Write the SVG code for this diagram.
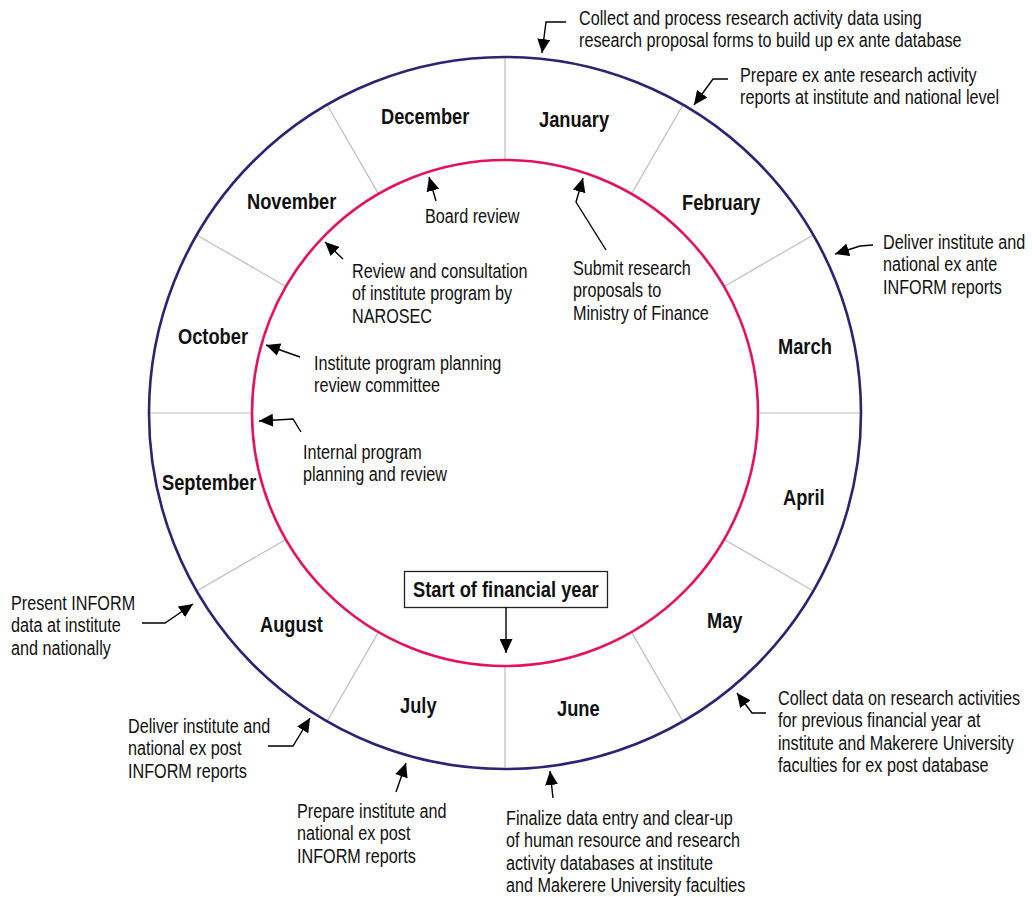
<svg xmlns="http://www.w3.org/2000/svg" width="1032" height="897" viewBox="0 0 1032 897">
  <style>
    .body { font-family: "Liberation Sans", Arial, sans-serif; font-size: 20px; fill: #111; }
    .month { font-family: "Liberation Sans", Arial, sans-serif; font-size: 21.5px; font-weight: bold; fill: #111; }
    .divider { stroke: #bdbdbd; stroke-width: 1.2; }
    .conn { fill: none; stroke: #000; stroke-width: 1.4; marker-end: url(#head); }
  </style>
  <defs>
    <marker id="head" markerUnits="userSpaceOnUse" markerWidth="15" markerHeight="13" refX="14" refY="6.5" orient="auto">
      <path d="M0,0 L14,6.5 L0,13 Z" fill="#000"/>
    </marker>
  </defs>
  <rect width="1032" height="897" fill="#fff"/>

  <!-- month ring -->
  <g id="ring">
    <g class="divider">
      <line x1="505" y1="160" x2="505" y2="57"/>
      <line x1="505" y1="160" x2="505" y2="57" transform="rotate(30 505 413)"/>
      <line x1="505" y1="160" x2="505" y2="57" transform="rotate(60 505 413)"/>
      <line x1="505" y1="160" x2="505" y2="57" transform="rotate(90 505 413)"/>
      <line x1="505" y1="160" x2="505" y2="57" transform="rotate(120 505 413)"/>
      <line x1="505" y1="160" x2="505" y2="57" transform="rotate(150 505 413)"/>
      <line x1="505" y1="160" x2="505" y2="57" transform="rotate(180 505 413)"/>
      <line x1="505" y1="160" x2="505" y2="57" transform="rotate(210 505 413)"/>
      <line x1="505" y1="160" x2="505" y2="57" transform="rotate(240 505 413)"/>
      <line x1="505" y1="160" x2="505" y2="57" transform="rotate(270 505 413)"/>
      <line x1="505" y1="160" x2="505" y2="57" transform="rotate(300 505 413)"/>
      <line x1="505" y1="160" x2="505" y2="57" transform="rotate(330 505 413)"/>
    </g>
    <circle cx="505" cy="413" r="356" fill="none" stroke="#2E2372" stroke-width="2.6"/>
    <circle cx="505" cy="413" r="253" fill="none" stroke="#E3115F" stroke-width="2.6"/>
  </g>

  <!-- month labels -->
  <g id="months">
    <text id="m-jan" class="month" transform="translate(539,127) scale(0.85,1)">January</text>
    <text id="m-feb" class="month" transform="translate(682,210) scale(0.85,1)">February</text>
    <text id="m-mar" class="month" transform="translate(778,354) scale(0.85,1)">March</text>
    <text id="m-apr" class="month" transform="translate(783,505) scale(0.85,1)">April</text>
    <text id="m-may" class="month" transform="translate(707,628) scale(0.85,1)">May</text>
    <text id="m-jun" class="month" transform="translate(557,716) scale(0.85,1)">June</text>
    <text id="m-jul" class="month" transform="translate(400,713) scale(0.85,1)">July</text>
    <text id="m-aug" class="month" transform="translate(260,632) scale(0.85,1)">August</text>
    <text id="m-sep" class="month" transform="translate(162,490) scale(0.85,1)">September</text>
    <text id="m-oct" class="month" transform="translate(178,344) scale(0.85,1)">October</text>
    <text id="m-nov" class="month" transform="translate(247,209) scale(0.85,1)">November</text>
    <text id="m-dec" class="month" transform="translate(381,124) scale(0.85,1)">December</text>
  </g>

  <!-- activities outside the ring -->
  <g id="collect-ex-ante">
    <text class="body" transform="translate(579,25) scale(0.81,1)"><tspan x="0" y="0">Collect and process research activity data using</tspan><tspan x="0" y="22.3">research proposal forms to build up ex ante database</tspan></text>
  </g>
  <g id="prepare-ex-ante">
    <text class="body" transform="translate(740,82) scale(0.81,1)"><tspan x="0" y="0">Prepare ex ante research activity</tspan><tspan x="0" y="22.3">reports at institute and national level</tspan></text>
  </g>
  <g id="deliver-ex-ante">
    <text class="body" transform="translate(883,249) scale(0.81,1)"><tspan x="0" y="0">Deliver institute and</tspan><tspan x="0" y="22.3">national ex ante</tspan><tspan x="0" y="44.6">INFORM reports</tspan></text>
  </g>
  <g id="collect-ex-post">
    <text class="body" transform="translate(778,705) scale(0.81,1)"><tspan x="0" y="0">Collect data on research activities</tspan><tspan x="0" y="22.3">for previous financial year at</tspan><tspan x="0" y="44.6">institute and Makerere University</tspan><tspan x="0" y="66.9">faculties for ex post database</tspan></text>
  </g>
  <g id="finalize">
    <text class="body" transform="translate(506,825) scale(0.81,1)"><tspan x="0" y="0">Finalize data entry and clear-up</tspan><tspan x="0" y="22.3">of human resource and research</tspan><tspan x="0" y="44.6">activity databases at institute</tspan><tspan x="0" y="66.9">and Makerere University faculties</tspan></text>
  </g>
  <g id="prepare-ex-post">
    <text class="body" transform="translate(297,818) scale(0.81,1)"><tspan x="0" y="0">Prepare institute and</tspan><tspan x="0" y="22.3">national ex post</tspan><tspan x="0" y="44.6">INFORM reports</tspan></text>
  </g>
  <g id="deliver-ex-post">
    <text class="body" transform="translate(128,733) scale(0.81,1)"><tspan x="0" y="0">Deliver institute and</tspan><tspan x="0" y="22.3">national ex post</tspan><tspan x="0" y="44.6">INFORM reports</tspan></text>
  </g>
  <g id="present-inform">
    <text class="body" transform="translate(11,610) scale(0.81,1)"><tspan x="0" y="0">Present INFORM</tspan><tspan x="0" y="22.3">data at institute</tspan><tspan x="0" y="44.6">and nationally</tspan></text>
  </g>

  <!-- activities inside the ring -->
  <g id="board-review">
    <text class="body" transform="translate(425,223) scale(0.81,1)">Board review</text>
  </g>
  <g id="submit-proposals">
    <text class="body" transform="translate(573,275) scale(0.81,1)"><tspan x="0" y="0">Submit research</tspan><tspan x="0" y="22.3">proposals to</tspan><tspan x="0" y="44.6">Ministry of Finance</tspan></text>
  </g>
  <g id="narosec-review">
    <text class="body" transform="translate(352,278) scale(0.81,1)"><tspan x="0" y="0">Review and consultation</tspan><tspan x="0" y="22.3">of institute program by</tspan><tspan x="0" y="44.6">NAROSEC</tspan></text>
  </g>
  <g id="committee-review">
    <text class="body" transform="translate(314,370) scale(0.81,1)"><tspan x="0" y="0">Institute program planning</tspan><tspan x="0" y="22.3">review committee</tspan></text>
  </g>
  <g id="internal-review">
    <text class="body" transform="translate(303,459) scale(0.81,1)"><tspan x="0" y="0">Internal program</tspan><tspan x="0" y="22.3">planning and review</tspan></text>
  </g>
  <g id="financial-year-start">
    <rect x="404.5" y="571.5" width="203" height="36" fill="#fff" stroke="#222" stroke-width="1.3"/>
    <text class="month" transform="translate(413,597) scale(0.85,1)">Start of financial year</text>
  </g>

  <!-- pointers from each activity to its place on the ring -->
  <g id="connectors">
    <polyline class="conn" points="566,22 546,22 542,53"/>
    <polyline class="conn" points="728,79 713,79 694,105"/>
    <polyline class="conn" points="873,245 860,246 835,254"/>
    <polyline class="conn" points="766,713 752,713 737,693"/>
    <polyline class="conn" points="553,798 550,771"/>
    <polyline class="conn" points="396,792 406,763"/>
    <polyline class="conn" points="268,746 293,746 310,718"/>
    <polyline class="conn" points="142,623 165,623 193,604"/>
    <polyline class="conn" points="436,201 429,177"/>
    <polyline class="conn" points="606,250 576,202 583,178"/>
    <polyline class="conn" points="343,259 325,242"/>
    <polyline class="conn" points="300,357 266,345"/>
    <polyline class="conn" points="301,432 293,419 259,421"/>
    <polyline class="conn" points="506,607 506,653"/>
  </g>
</svg>
